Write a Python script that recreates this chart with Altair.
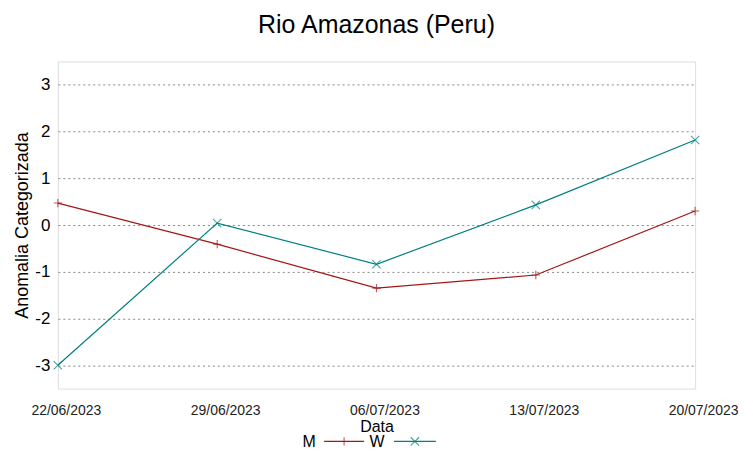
import altair as alt
import pandas as pd

dates = ["22/06/2023", "29/06/2023", "06/07/2023", "13/07/2023", "20/07/2023"]
m_vals = [0.47, -0.41, -1.35, -1.07, 0.30]
w_vals = [-3.0, 0.04, -0.84, 0.43, 1.82]
series = ["M", "W"]
colors = ["#a51616", "#00807f"]
shapes = ["M-1,0L1,0M0,-1L0,1", "M-1,-1L1,1M-1,1L1,-1"]

rows = []
for d, m, w in zip(dates, m_vals, w_vals):
    rows.append({"Data": d, "serie": "M", "valor": m})
    rows.append({"Data": d, "serie": "W", "valor": w})
df = pd.DataFrame(rows)

FONT = "Liberation Sans"

x = alt.X("Data:O", sort=dates, scale=alt.Scale(padding=0),
          axis=alt.Axis(title="Data", labelAngle=0, labelFontSize=14, labelFont=FONT,
                        labelPadding=15, tickSize=0, domain=False, labelOffset=8,
                        titleFontSize=16, titleFont=FONT, titleFontWeight="normal",
                        titlePadding=1, titleColor="black", labelColor="#222222"))
y = alt.Y("valor:Q", scale=alt.Scale(domain=[-3.5, 3.5], nice=False),
          axis=alt.Axis(title="Anomalia Categorizada", values=[-3, -2, -1, 0, 1, 2, 3],
                        labelExpr="datum.value + ''",
                        labelFontSize=17, labelFont=FONT, labelPadding=8, tickSize=0,
                        domain=False, grid=True, gridDash=[2, 3], gridColor="#888888",
                        gridOpacity=1, titleFontSize=18, titleFont=FONT,
                        titleFontWeight="normal", titlePadding=3,
                        titleColor="black", labelColor="black"))
color = alt.Color("serie:N", scale=alt.Scale(domain=series, range=colors), legend=None)

lines = alt.Chart(df).mark_line(strokeWidth=1.2).encode(x=x, y=y, color=color)
points = alt.Chart(df).mark_point(size=70, filled=False, strokeWidth=1.1).encode(
    x=x, y=y, color=color,
    shape=alt.Shape("serie:N", scale=alt.Scale(domain=series, range=shapes), legend=None))

leg = pd.DataFrame({"serie": series})
legend_layers = []
text_x = [252, 320]
rule_x = [(267, 307), (337, 379)]
for i, s in enumerate(series):
    base = alt.Chart(leg).transform_filter(alt.datum.serie == s)
    legend_layers.append(base.mark_text(fontSize=16, font=FONT, color="black").encode(
        text="serie:N", x=alt.value(text_x[i]), y=alt.value(382)))
    legend_layers.append(base.mark_rule(color=colors[i], strokeWidth=1.2).encode(
        x=alt.value(rule_x[i][0]), x2=alt.value(rule_x[i][1]), y=alt.value(381)))
    legend_layers.append(base.mark_point(color=colors[i], shape=shapes[i], size=70,
                                         strokeWidth=1.1).encode(
        x=alt.value((rule_x[i][0] + rule_x[i][1]) / 2), y=alt.value(381)))

chart = alt.layer(lines, points, *legend_layers).properties(
    width=639, height=328,
    title=alt.TitleParams("Rio Amazonas (Peru)", fontSize=25, font=FONT,
                          fontWeight="normal", anchor="middle", offset=24, color="black"),
    autosize=alt.AutoSizeParams(type="none"),
    padding={"left": 50, "top": 53, "right": 50, "bottom": 69},
).configure_view(stroke="#333333", strokeWidth=1.2).configure(background="white")

chart.save("out.html", embed_options={"renderer": "svg", "actions": False})
